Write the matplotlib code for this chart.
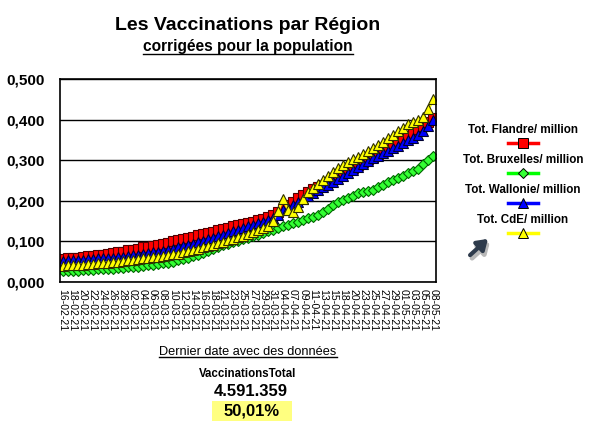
import matplotlib
matplotlib.use("Agg")
import matplotlib.pyplot as plt
from matplotlib.lines import Line2D
from matplotlib.patches import FancyArrowPatch, Rectangle

plt.rcParams['font.family'] = ['Liberation Sans', 'DejaVu Sans']

# categories (dates with data)
dates = ['16-02-21', '17-02-21', '18-02-21', '19-02-21', '20-02-21', '21-02-21', '22-02-21',
         '23-02-21', '24-02-21', '25-02-21', '26-02-21', '27-02-21', '28-02-21',
         '01-03-21', '02-03-21', '03-03-21', '04-03-21', '05-03-21', '06-03-21', '07-03-21',
         '08-03-21', '09-03-21', '10-03-21', '11-03-21', '12-03-21', '13-03-21', '14-03-21',
         '15-03-21', '16-03-21', '17-03-21', '18-03-21', '19-03-21', '21-03-21', '22-03-21',
         '23-03-21', '24-03-21', '25-03-21', '26-03-21', '27-03-21', '28-03-21', '29-03-21',
         '30-03-21', '31-03-21', '02-04-21', '04-04-21', '06-04-21', '07-04-21', '08-04-21',
         '09-04-21', '10-04-21', '11-04-21', '12-04-21', '13-04-21', '14-04-21', '15-04-21',
         '16-04-21', '18-04-21', '19-04-21', '20-04-21', '22-04-21', '23-04-21', '24-04-21',
         '25-04-21', '26-04-21', '27-04-21', '28-04-21', '29-04-21', '30-04-21', '01-05-21',
         '02-05-21', '03-05-21', '04-05-21', '05-05-21', '07-05-21', '08-05-21']

flandre = [0.057, 0.058, 0.059, 0.060, 0.062, 0.063, 0.064, 0.066, 0.067, 0.069, 0.071, 0.073, 0.075,
           0.078, 0.080, 0.082, 0.085, 0.087, 0.089, 0.092, 0.094, 0.097, 0.100, 0.103, 0.106, 0.109,
           0.112, 0.115, 0.118, 0.121, 0.124, 0.128, 0.131, 0.134, 0.137, 0.140, 0.143, 0.146, 0.149,
           0.152, 0.155, 0.159, 0.164,
           0.172, 0.180, 0.190, 0.198, 0.206, 0.214, 0.222,
           0.228, 0.234, 0.240, 0.247, 0.254, 0.261, 0.268, 0.275, 0.281, 0.288, 0.295, 0.302, 0.309,
           0.316, 0.323, 0.330, 0.337, 0.344, 0.352, 0.360, 0.368, 0.376,
           0.385, 0.393, 0.404]

bruxelles = [0.027, 0.027, 0.028, 0.028, 0.029, 0.029, 0.030, 0.031, 0.031, 0.032, 0.033, 0.034, 0.035,
             0.036, 0.037, 0.038, 0.040, 0.041, 0.043, 0.044, 0.046, 0.048, 0.050, 0.053, 0.056, 0.059,
             0.063, 0.067, 0.072, 0.077, 0.082, 0.086, 0.090, 0.094, 0.098, 0.102, 0.105, 0.109, 0.113,
             0.117, 0.121, 0.125,
             0.129, 0.133, 0.137, 0.141, 0.145, 0.149, 0.153, 0.157, 0.161, 0.165,
             0.172, 0.180, 0.189, 0.197, 0.203, 0.208, 0.213, 0.218, 0.221, 0.224, 0.227, 0.233,
             0.240, 0.247, 0.252, 0.257, 0.262, 0.268, 0.273, 0.279, 0.290, 0.300, 0.310]

wallonie = [0.052, 0.053, 0.054, 0.055, 0.055, 0.056, 0.057, 0.058, 0.058, 0.059, 0.060, 0.061, 0.062,
            0.064, 0.066, 0.067, 0.069, 0.071, 0.073, 0.075, 0.077, 0.079, 0.082, 0.085, 0.088, 0.091,
            0.094, 0.098, 0.102, 0.105, 0.109, 0.113, 0.117, 0.121, 0.125, 0.129, 0.133, 0.137, 0.141,
            0.145, 0.149, 0.153, 0.158,
            0.166, 0.177, 0.183, 0.190, 0.197, 0.204, 0.211, 0.219,
            0.226, 0.233, 0.240, 0.247, 0.254, 0.261, 0.268, 0.276, 0.283, 0.290, 0.297, 0.305,
            0.311, 0.317, 0.323, 0.330, 0.336, 0.343, 0.349, 0.355, 0.362,
            0.372, 0.384, 0.399]

cde = [0.040, 0.041, 0.042, 0.042, 0.043, 0.044, 0.045, 0.046, 0.047, 0.048, 0.049, 0.050, 0.052,
       0.053, 0.055, 0.056, 0.058, 0.059, 0.061, 0.062, 0.064, 0.066, 0.068, 0.070, 0.073, 0.076,
       0.079, 0.082, 0.085, 0.088, 0.092, 0.096, 0.099, 0.103, 0.106, 0.110, 0.114, 0.118, 0.122,
       0.127, 0.132, 0.138,
       0.150, 0.175, 0.205, 0.178, 0.172, 0.185,
       0.205, 0.222, 0.232, 0.242, 0.252, 0.262, 0.272, 0.281,
       0.288, 0.295, 0.302, 0.309, 0.316, 0.323, 0.330,
       0.338, 0.346, 0.354, 0.362, 0.371, 0.380,
       0.388, 0.395, 0.400, 0.407, 0.425, 0.450]

y_ticks = [0.0, 0.1, 0.2, 0.3, 0.4, 0.5]
y_labels = ['0,000', '0,100', '0,200', '0,300', '0,400', '0,500']

series_names = ['Tot. Flandre/ million', 'Tot. Bruxelles/ million',
                'Tot. Wallonie/ million', 'Tot. CdE/ million']

total_vacc = '4.591.359'
pct_vacc = '50,01%'

styles = [
    dict(color='#ff0000', marker='s', mfc='#ff0000', mec='#500000', ms=6.5),
    dict(color='#00ff00', marker='D', mfc='#33ff33', mec='#006600', ms=5.2),
    dict(color='#0000ff', marker='^', mfc='#0000ff', mec='#000030', ms=7),
    dict(color='#ffff00', marker='^', mfc='#ffff00', mec='#303000', ms=7.5),
]

fig = plt.figure(figsize=(5.96, 4.36), dpi=100)
ax = fig.add_axes([0.1007, 0.3532, 0.6308, 0.4656])

x = list(range(len(dates)))
for vals, st in zip([flandre, bruxelles, wallonie, cde], styles):
    ax.plot(x, vals, color=st['color'], lw=1.8, marker=st['marker'], ms=st['ms'],
            mfc=st['mfc'], mec=st['mec'], mew=0.8)

ax.set_xlim(-0.5, len(dates) - 0.5)
ax.set_ylim(0, 0.5)
ax.set_yticks(y_ticks)
ax.set_yticklabels(y_labels, fontsize=11, fontweight='bold')
ax.set_xticks(x[::2])
ax.set_xticklabels(dates[::2], rotation=-90, fontsize=7.6)
ax.tick_params(axis='both', length=0)
ax.tick_params(axis='y', pad=11)
ax.tick_params(axis='x', pad=5)
ax.grid(axis='y', color='black', lw=1)
ax.set_axisbelow(True)
for sp in ax.spines.values():
    sp.set_color('black')
    sp.set_linewidth(1.2)

W, H = 596, 436


def fx(px):
    return px / W


def fy(py):
    return 1 - py / H


fig.text(fx(248), fy(26), 'Les Vaccinations par Région', ha='center', va='center',
         fontsize=14, fontweight='bold')
sub = fig.text(fx(248), fy(47), 'corrigées pour la population', ha='center', va='center',
               fontsize=11.2, fontweight='bold')
bot = fig.text(fx(248), fy(352), 'Dernier date avec des données', ha='center', va='center',
               fontsize=9.2)
fig.text(fx(248), fy(374), 'VaccinationsTotal', ha='center', va='center',
         fontsize=8.3, fontweight='bold')
fig.text(fx(251), fy(391), total_vacc, ha='center', va='center',
         fontsize=12, fontweight='bold')
fig.add_artist(Rectangle((fx(212), fy(421)), fx(80), 20 / H, transform=fig.transFigure,
                         fc='#ffff80', ec='none'))
fig.text(fx(252), fy(411), pct_vacc, ha='center', va='center', fontsize=12, fontweight='bold')

# custom legend: label above a short line sample
leg_y = [130, 160, 190, 220]
for name, st, ly in zip(series_names, styles, leg_y):
    fig.text(fx(523), fy(ly), name, ha='center', va='center', fontsize=8.4, fontweight='bold')
    fig.add_artist(Line2D([fx(508), fx(538)], [fy(ly + 13), fy(ly + 13)], color=st['color'],
                          lw=2.5, transform=fig.transFigure))
    fig.add_artist(Line2D([fx(523)], [fy(ly + 13)], marker=st['marker'], ms=st['ms'],
                          mfc=st['mfc'], mec='black', mew=0.7, lw=0,
                          transform=fig.transFigure))

# arrow
fig.add_artist(FancyArrowPatch((fx(470), fy(260)), (fx(492), fy(240)), transform=fig.transFigure,
                               arrowstyle='-|>,head_length=6,head_width=4', color='#b8b8b8',
                               lw=3.5))
fig.add_artist(FancyArrowPatch((fx(468), fy(257)), (fx(490), fy(237)), transform=fig.transFigure,
                               arrowstyle='-|>,head_length=6,head_width=4', color='#2e3b4c',
                               lw=3))

# underline the subtitle and the bottom caption
fig.canvas.draw()
r = fig.canvas.get_renderer()
for t in (sub, bot):
    bb = t.get_window_extent(r).transformed(fig.transFigure.inverted())
    fig.add_artist(Line2D([bb.x0, bb.x1], [bb.y0 + 0.002, bb.y0 + 0.002], color='black',
                          lw=1, transform=fig.transFigure))

fig.savefig('out.png', dpi=100)
